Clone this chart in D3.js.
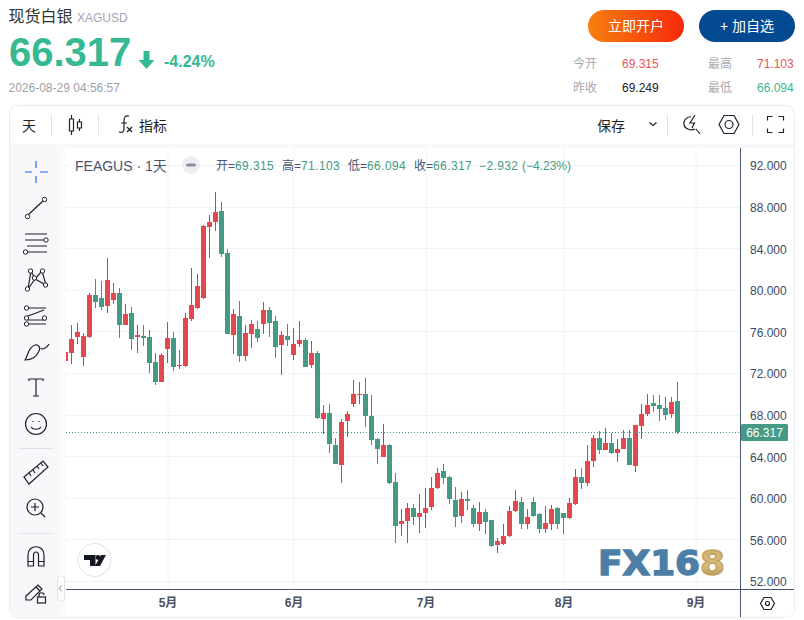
<!DOCTYPE html>
<html>
<head>
<meta charset="utf-8">
<script src="https://cdnjs.cloudflare.com/ajax/libs/d3/7.8.5/d3.min.js"></script>
<style>
  html, body { margin: 0; padding: 0; background: #fff; }
  svg { display: block; font-family: "Liberation Sans", "Noto Sans CJK SC", sans-serif; }
  .icon { fill: none; stroke: #1c2030; stroke-width: 1.2; }
</style>
</head>
<body>
<div id="chart"></div>
<script>
/*global d3*/

// daily candles
var opens = [
  73.15,73.92,75.46,73.54,75.46,79.50,79.21,78.44,79.02,79.69,
  76.62,77.77,75.46,75.56,75.46,73.06,71.13,74.31,75.37,72.67,
  72.67,77.19,78.25,79.21,86.04,86.52,87.58,83.54,75.65,77.48,
  73.63,75.75,76.23,76.71,78.06,77.00,74.69,75.56,73.73,74.79,
  75.17,72.77,73.92,67.58,68.15,65.08,63.15,67.38,69.02,69.88,
  69.98,67.87,65.65,63.92,65.08,61.52,57.48,57.77,59.02,58.15,
  58.54,59.12,60.94,62.58,62.00,59.79,58.25,59.88,59.02,57.48,
  58.63,57.87,55.46,55.56,56.33,58.73,59.60,57.48,59.60,58.44,
  57.00,57.48,59.02,58.54,58.06,59.40,62.00,61.42,63.54,65.75,
  64.60,65.27,64.31,64.69,65.75,63.06,66.90,68.06,69.12,68.92,
  68.63,68.06,69.315
];
var closes = [
  74.02,75.27,75.94,75.56,79.50,78.83,78.35,80.94,79.69,76.62,
  77.67,75.27,75.65,75.37,72.96,71.13,73.73,75.37,72.58,72.77,
  77.29,78.54,80.37,86.13,86.52,87.48,83.44,75.75,77.67,73.63,
  75.85,76.71,75.37,78.06,76.81,74.50,75.65,75.17,74.79,75.17,
  72.58,73.92,67.67,68.15,65.17,63.25,67.29,68.06,69.98,69.98,
  67.87,65.56,64.69,65.08,61.42,57.29,57.77,59.02,58.15,58.54,
  59.02,60.94,62.38,61.90,59.88,58.15,59.88,59.69,57.48,58.63,
  57.67,55.37,55.85,56.33,58.73,59.69,57.48,58.15,58.25,57.00,
  57.58,58.92,57.48,58.06,59.50,62.00,61.42,63.54,65.75,64.60,
  65.27,64.31,64.69,65.75,63.15,67.00,68.06,68.92,68.83,68.54,
  67.96,69.21,66.317
];
var highs = [
  74.30,76.62,76.81,75.85,79.69,81.04,80.85,83.06,80.65,80.17,
  78.63,78.35,76.62,76.62,76.13,73.92,73.92,76.90,75.94,74.21,
  77.77,82.10,81.52,86.23,87.19,89.40,88.44,83.92,78.15,78.92,
  76.62,77.10,77.00,78.83,78.35,77.48,76.04,76.71,76.33,77.00,
  75.37,75.08,74.12,68.92,69.02,65.75,67.58,68.35,71.33,71.13,
  71.52,69.88,65.75,67.10,65.17,62.38,58.92,59.50,59.40,60.37,
  60.94,62.00,62.87,63.25,62.10,61.04,60.56,60.75,59.31,59.60,
  58.92,57.87,56.13,57.48,59.21,60.75,60.08,58.92,60.08,58.54,
  59.21,59.31,59.12,58.54,59.98,62.77,62.87,65.08,66.04,66.42,
  66.71,66.23,65.65,66.52,66.52,67.00,69.02,69.98,69.88,69.88,
  69.69,69.69,71.103
];
var lows = [
  72.90,72.87,74.79,72.67,75.37,78.25,78.06,77.77,78.63,75.37,
  76.62,74.21,73.92,74.60,72.00,70.85,71.13,72.96,72.19,72.38,
  72.58,77.00,78.15,79.12,83.06,85.65,83.15,75.75,73.83,73.06,
  73.15,74.40,74.98,75.75,75.46,73.44,71.81,74.60,73.25,74.50,
  72.58,72.48,67.58,66.13,64.31,63.25,61.42,65.85,68.73,69.02,
  66.81,65.08,63.25,63.92,61.33,55.65,56.33,55.65,57.38,56.62,
  57.10,58.83,60.85,61.33,59.40,57.19,57.58,58.83,57.19,56.81,
  56.52,55.27,54.69,55.46,56.23,58.63,57.00,57.00,58.15,56.62,
  56.62,56.90,57.00,56.52,57.96,59.31,60.85,61.13,62.96,64.21,
  64.60,64.21,63.44,64.69,63.15,62.48,65.65,67.87,68.25,67.38,
  67.48,67.67,66.094
];

// bar index of the first trading day of each month
var monthTicks = [17, 38, 60, 83, 105];
var monthLabels = ["5月", "6月", "7月", "8月", "9月"];
var priceTicks = [52, 56, 60, 64, 68, 72, 76, 80, 84, 88, 92];
var lastPrice = 66.317;

var UP = "#e3484f", DOWN = "#459a85", UPWICK = "#a64f5e", DOWNWICK = "#55896f";

var plot = {left: 66, right: 740, top: 148, bottom: 589};

var x = d3.scaleLinear().domain([0, 105]).range([65.5, 695.5]);
var y = d3.scaleLinear().domain([52, 92]).range([581, 165]);

var svg = d3.select("#chart").append("svg")
    .attr("width", 804)
    .attr("height", 620);

function text(cx, cy, str, size, color, opts) {
    opts = opts || {};
    return svg.append("text")
        .attr("x", cx).attr("y", cy)
        .attr("font-size", size)
        .attr("fill", color)
        .attr("text-anchor", opts.anchor || "start")
        .attr("font-weight", opts.weight || "normal")
        .attr("letter-spacing", opts.spacing || null)
        .text(str);
}

function icon(cx, cy, d) {
    return svg.append("path").attr("class", "icon")
        .attr("transform", "translate(" + cx + "," + cy + ")")
        .attr("d", d);
}

var defs = svg.append("defs");
var grad = defs.append("linearGradient").attr("id", "openBtn");
grad.append("stop").attr("offset", "0%").attr("stop-color", "#f88010");
grad.append("stop").attr("offset", "100%").attr("stop-color", "#f5290a");
var gold = defs.append("linearGradient").attr("id", "gold")
    .attr("x1", 0).attr("x2", 0).attr("y1", 0).attr("y2", 1);
gold.append("stop").attr("offset", "0%").attr("stop-color", "#c9a868");
gold.append("stop").attr("offset", "55%").attr("stop-color", "#d9bd80");
gold.append("stop").attr("offset", "100%").attr("stop-color", "#a5813f");
defs.append("clipPath").attr("id", "plotClip").append("rect")
    .attr("x", plot.left).attr("y", plot.top)
    .attr("width", plot.right - plot.left).attr("height", plot.bottom - plot.top);

// header
text(8.5, 22, "现货白银", 16, "#333");
text(77, 22, "XAGUSD", 12, "#a4a4b2");
text(9, 66, "66.317", 40, "#35b993", {weight: "bold"});
svg.append("path").attr("fill", "#35b993")
    .attr("transform", "translate(146.5,51)")
    .attr("d", "M-3,0H3V9H8L0,18L-8,9H-3Z");
text(164, 67, "-4.24%", 16, "#35b993", {weight: "bold"});
text(8.5, 92, "2026-08-29 04:56:57", 12, "#a0a0aa");

svg.append("rect").attr("x", 588).attr("y", 10).attr("width", 96).attr("height", 32)
    .attr("rx", 16).attr("fill", "url(#openBtn)");
text(636, 31, "立即开户", 14, "#fff", {anchor: "middle"});
svg.append("rect").attr("x", 699).attr("y", 10).attr("width", 96).attr("height", 32)
    .attr("rx", 16).attr("fill", "#034a93");
text(747, 31, "+ 加自选", 14, "#fff", {anchor: "middle"});

text(573, 68, "今开", 12, "#a8a8b0");
text(622, 68, "69.315", 12, "#e8555a");
text(708, 68, "最高", 12, "#a8a8b0");
text(757, 68, "71.103", 12, "#e8555a");
text(573, 92, "昨收", 12, "#a8a8b0");
text(622, 92, "69.249", 12, "#222");
text(708, 92, "最低", 12, "#a8a8b0");
text(757, 92, "66.094", 12, "#35b993");

// chart card
svg.append("rect").attr("x", 9.5).attr("y", 105.5).attr("width", 785).attr("height", 512)
    .attr("rx", 8).attr("fill", "#fff").attr("stroke", "#ebebf0");
svg.append("rect").attr("x", 10).attr("y", 144).attr("width", 784).attr("height", 4).attr("fill", "#f8f8fa");
svg.append("rect").attr("x", 10).attr("y", 144).attr("width", 50).attr("height", 473).attr("fill", "#f8f8fa");
svg.append("rect").attr("x", 60).attr("y", 148).attr("width", 6).attr("height", 469).attr("fill", "#fbfbfc");

// top toolbar
text(22, 131, "天", 14, "#222");
text(139, 131, "指标", 14, "#222");
text(597, 131, "保存", 14, "#222");
[51.5, 98.5, 667.5, 752.5].forEach(function(sx) {
    svg.append("line").attr("x1", sx).attr("x2", sx).attr("y1", 114).attr("y2", 136).attr("stroke", "#e0e3eb");
});
icon(71.5, 125, "M0,-10V-6M-2,-6H2V6H-2ZM0,6V10M8,-6V-3M6,-3H10V3H6ZM8,3V6");
icon(120, 124, "M9,-8C5,-9 4,-6 4,-3V5C4,8 2,9 -1,8M1,-1H7");
icon(120, 124, "M7,3L12,8M12,3L7,8");
icon(653, 124, "M-3.5,-1.5L0,1.5L3.5,-1.5");
icon(690, 124, "M1,-7.5C-4,-7 -7,-3 -6,1C-5,5 1,7 5,5M5,-9L0,-1H4.5L2,4M6,5L10,10");
icon(729, 124.5, "M-10,0L-5,-9H5L10,0L5,9H-5Z");
svg.append("circle").attr("class", "icon").attr("cx", 729).attr("cy", 124.5).attr("r", 4);
icon(775.5, 124.5, "M-8,-4V-8H-3M3,-8H8V-4M8,4V8H3M-3,8H-8V4");

// grid
svg.append("g").selectAll("line").data(priceTicks).enter().append("line")
    .attr("x1", plot.left).attr("x2", plot.right)
    .attr("y1", function(d) { return Math.round(y(d)) + 0.5; })
    .attr("y2", function(d) { return Math.round(y(d)) + 0.5; })
    .attr("stroke", "#f0f2f5");
svg.append("g").selectAll("line").data(monthTicks).enter().append("line")
    .attr("x1", function(d) { return x(d) + 0.5; })
    .attr("x2", function(d) { return x(d) + 0.5; })
    .attr("y1", plot.top).attr("y2", plot.bottom)
    .attr("stroke", "#f0f2f5");

// watermark
var mark = svg.append("text").attr("x", 598).attr("y", 575)
    .attr("font-size", 34).attr("font-weight", "bold")
    .attr("font-family", "'DejaVu Sans', sans-serif")
    .attr("stroke-width", 1.4);
mark.append("tspan").attr("fill", "#4d7fa6").attr("stroke", "#4d7fa6").text("FX16");
mark.append("tspan").attr("fill", "url(#gold)").attr("stroke", "#c4a263").text("8");
mark.attr("textLength", 127).attr("lengthAdjust", "spacingAndGlyphs");

// candles
var candles = svg.append("g").attr("clip-path", "url(#plotClip)")
    .selectAll("g").data(opens).enter().append("g");

candles.append("line")
    .attr("x1", function(d, i) { return Math.floor(x(i)) + 0.5; })
    .attr("x2", function(d, i) { return Math.floor(x(i)) + 0.5; })
    .attr("y1", function(d, i) { return y(highs[i]); })
    .attr("y2", function(d, i) { return y(lows[i]); })
    .attr("stroke", function(d, i) { return closes[i] >= d ? UPWICK : DOWNWICK; })
    .attr("shape-rendering", "crispEdges");

candles.append("rect")
    .attr("x", function(d, i) { return Math.floor(x(i)) - 2; })
    .attr("width", 5)
    .attr("y", function(d, i) { return y(Math.max(d, closes[i])); })
    .attr("height", function(d, i) { return Math.max(1, Math.abs(y(d) - y(closes[i]))); })
    .attr("fill", function(d, i) { return closes[i] >= d ? UP : DOWN; })
    .attr("shape-rendering", "crispEdges");

// last price line
svg.append("line")
    .attr("x1", plot.left).attr("x2", plot.right)
    .attr("y1", Math.round(y(lastPrice)) + 0.5).attr("y2", Math.round(y(lastPrice)) + 0.5)
    .attr("stroke", "#2b9a80").attr("stroke-dasharray", "1 2");

// axes
var yAxis = svg.append("g")
    .attr("transform", "translate(" + plot.right + ",0)")
    .call(d3.axisRight(y).tickValues(priceTicks).tickSize(0).tickPadding(10).tickFormat(d3.format(".3f")));
yAxis.select(".domain").remove();
yAxis.selectAll("text").attr("font-size", 12).attr("dy", "0.4em")
    .attr("font-family", "'Liberation Sans'").attr("fill", "#3d4a60");

var xAxis = svg.append("g")
    .attr("transform", "translate(0," + plot.bottom + ")")
    .call(d3.axisBottom(x).tickValues(monthTicks).tickSize(0).tickPadding(9)
        .tickFormat(function(d, i) { return monthLabels[i]; }));
xAxis.select(".domain").remove();
xAxis.selectAll("text").attr("font-size", 12).attr("font-weight", "bold")
    .attr("font-family", "'Liberation Sans','Noto Sans CJK SC'").attr("fill", "#4a5060");

svg.append("line").attr("x1", plot.left).attr("x2", 794).attr("y1", plot.bottom + 0.5).attr("y2", plot.bottom + 0.5).attr("stroke", "#4a5470");
svg.append("line").attr("x1", plot.right + 0.5).attr("x2", plot.right + 0.5).attr("y1", plot.top).attr("y2", 617).attr("stroke", "#4a5470");

// price tag
svg.append("rect").attr("x", 741).attr("y", 424).attr("width", 47).attr("height", 17).attr("rx", 1.5).attr("fill", "#459a85");
text(764.5, 437, d3.format(".3f")(lastPrice), 12, "#fff", {anchor: "middle"});

// bottom right settings
icon(767.5, 603.5, "M-7,0L-3.5,-6H3.5L7,0L3.5,6H-3.5Z");
svg.append("circle").attr("class", "icon").attr("cx", 767.5).attr("cy", 603.5).attr("r", 2);

// legend
text(75, 171, "FEAGUS · 1天", 14, "#4a5470");
svg.append("circle").attr("cx", 191).attr("cy", 165).attr("r", 9).attr("fill", "#eceef2");
svg.append("rect").attr("x", 186).attr("y", 163.5).attr("width", 10).attr("height", 3).attr("rx", 1.5).attr("fill", "#8a8e9c");
var legend = [
    {x: 216, k: "开", v: "69.315"},
    {x: 282, k: "高", v: "71.103"},
    {x: 348, k: "低", v: "66.094"},
    {x: 414, k: "收", v: "66.317"}
];
legend.forEach(function(d) {
    var t = text(d.x, 170, "", 12, "#4a5470");
    t.append("tspan").text(d.k + "=");
    t.append("tspan").attr("fill", "#459a85").attr("letter-spacing", "0.4").text(d.v);
});
text(479, 170, "−2.932", 12, "#459a85", {spacing: "0.4"});
text(522, 170, "(−4.23%)", 12, "#459a85");

// drawing tools on the left
svg.append("path").attr("fill", "none").attr("stroke", "#2962ff").attr("stroke-width", 1.2)
    .attr("d", "M36,161V168M36,176V183M25,172H32M40,172H48");
function ring(cx, cy) {
    svg.append("circle").attr("cx", cx).attr("cy", cy).attr("r", 2.2).attr("fill", "#fff").attr("stroke", "#1c2030");
}
icon(0, 0, "M28,215L44,200"); ring(27.5, 216.5); ring(44.5, 199.5);
icon(0, 0, "M25,234H47M25,240H44M27,252H47M27,246H47"); ring(46, 240); ring(25.5, 252);
icon(0, 0, "M28,289L31,271L35,279L42,271L46,285L35,279L28,289"); ring(27.5, 289); ring(30.5, 271); ring(34.5, 278); ring(42.5, 271); ring(45.5, 285);
icon(0, 0, "M27,308H46M27,320H46M27,324H46M28,316L44,310"); ring(26.5, 308); ring(26.5, 318); ring(26.5, 324); ring(44.5, 318);
icon(0, 0, "M25,360C28,356 28,347 35,345C38,344 41,347 39,351C37,356 32,360 25,360ZM41,348C42,350 47,348 49,344");
icon(0, 0, "M29,381V379H43V381M36,379V396M33,396H39");
svg.append("circle").attr("class", "icon").attr("cx", 36).attr("cy", 424).attr("r", 10.5);
icon(0, 0, "M31,427C33,430 39,430 41,427M32.5,421.5h1.2M38.5,421.5h1.2");
svg.append("line").attr("x1", 18).attr("x2", 54).attr("y1", 448.5).attr("y2", 448.5).attr("stroke", "#e0e3eb");
icon(0, 0, "M24,477L43,461L48,467L29,484ZM29,473L31,476M33,470L35,473M37,466L39,469M41,463L43,466");
svg.append("circle").attr("class", "icon").attr("cx", 35).attr("cy", 507).attr("r", 8);
icon(0, 0, "M35,503V511M31,507H39M41,513L45,517");
svg.append("line").attr("x1", 18).attr("x2", 54).attr("y1", 533.5).attr("y2", 533.5).attr("stroke", "#e0e3eb");
icon(0, 0, "M28,566V555C28,544 44,544 44,555V566H38.5V555C38.5,551 33.5,551 33.5,555V566ZM28,561.5H33.5M38.5,561.5H44");
icon(0, 0, "M26,596L38,585L42,589L31,600H26ZM36,587L40,591");
svg.append("rect").attr("class", "icon").attr("x", 37.5).attr("y", 597).attr("width", 8).attr("height", 6);
icon(0, 0, "M39,597V595C39,592 44,592 44,595");

// collapse handle
svg.append("rect").attr("x", 57.5).attr("y", 576).attr("width", 7).attr("height", 25).attr("rx", 3).attr("fill", "#fff").attr("stroke", "#e0e3eb");
icon(0, 0, "M61.5,585.5L59.5,588.5L61.5,591.5").style("stroke", "#a8abb5");

// tradingview badge
svg.append("circle").attr("cx", 94.5).attr("cy", 560).attr("r", 16.5).attr("fill", "#fff").attr("stroke", "#e0e3eb");
svg.append("path").attr("fill", "#131722")
    .attr("d", "M84,555H95.5V566H90V560H84ZM106,555L100,566H95L101,555Z");
svg.append("circle").attr("cx", 98).attr("cy", 557.5).attr("r", 2.4).attr("fill", "#131722");
</script>
</body>
</html>
